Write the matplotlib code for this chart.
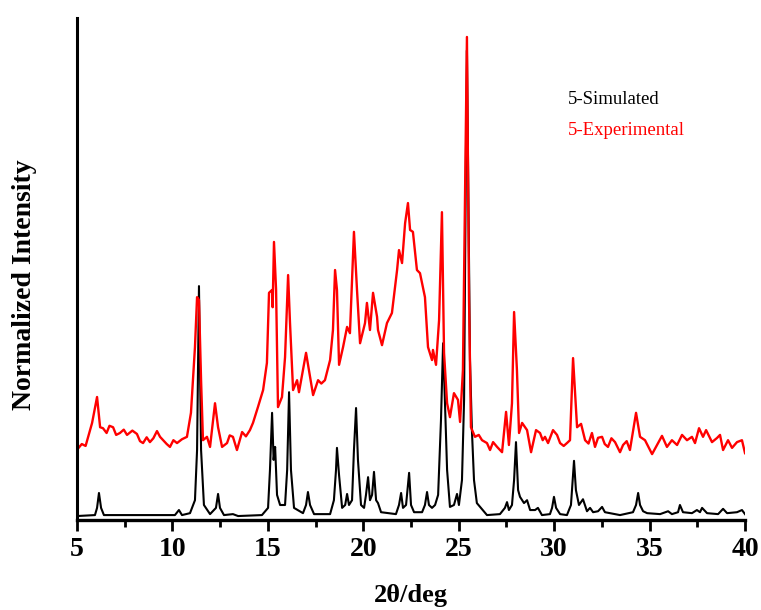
import matplotlib
matplotlib.use("Agg")
import matplotlib.pyplot as plt
import numpy as np
from matplotlib.ticker import MultipleLocator

plt.rcParams['font.family'] = ['Liberation Serif', 'DejaVu Serif']

# simulated pattern (2theta, intensity)
sim_x = [5.00, 5.94, 6.05, 6.15, 6.26, 6.41, 10.13, 10.34, 10.50, 10.92, 11.18, 11.29, 11.39, 11.50,
         11.65, 11.97, 12.28, 12.39, 12.49, 12.70, 13.17, 13.44, 14.69, 15.01, 15.11, 15.22, 15.30,
         15.38, 15.48, 15.64, 15.90, 16.01, 16.11, 16.21, 16.37, 16.84, 17.00, 17.10, 17.21, 17.42,
         18.26, 18.46, 18.57, 18.62, 18.73, 18.89, 19.05, 19.15, 19.25, 19.41, 19.51, 19.62, 19.72,
         19.88, 20.04, 20.14, 20.25, 20.35, 20.46, 20.56, 20.67, 20.77, 20.93, 21.71, 21.87, 21.98,
         22.08, 22.24, 22.40, 22.50, 22.66, 23.08, 23.23, 23.34, 23.44, 23.60, 23.76, 23.92, 24.07,
         24.18, 24.28, 24.39, 24.54, 24.75, 24.91, 25.01, 25.17, 25.28, 25.38, 25.43, 25.48, 25.59,
         25.69, 25.80, 25.95, 26.48, 27.16, 27.42, 27.53, 27.63, 27.79, 27.90, 28.00, 28.11, 28.21,
         28.32, 28.42, 28.58, 28.74, 29.00, 29.15, 29.36, 29.78, 29.89, 29.99, 30.10, 30.31, 30.67,
         30.88, 31.04, 31.14, 31.30, 31.51, 31.72, 31.88, 32.04, 32.30, 32.51, 32.66, 33.45, 34.13,
         34.29, 34.40, 34.50, 34.66, 34.87, 35.55, 35.97, 36.17, 36.49, 36.59, 36.75, 37.22, 37.48,
         37.64, 37.75, 38.01, 38.59, 38.85, 39.06, 39.58, 39.84, 40.00]
sim_y = [0.0, 0.2, 1.7, 4.8, 1.7, 0.2, 0.2, 1.25, 0.2, 0.6, 3.3, 13.75, 47.9, 13.75,
         2.3, 0.4, 1.7, 4.6, 1.7, 0.2, 0.4, 0.0, 0.2, 1.7, 9.6, 21.5, 11.7,
         14.4, 4.4, 2.3, 2.3, 9.6, 25.8, 9.6, 1.7, 0.6, 2.3, 5.0, 2.3, 0.4,
         0.4, 3.3, 9.6, 14.2, 8.5, 1.7, 2.3, 4.6, 2.3, 3.3, 13.75, 22.5, 11.7,
         2.3, 1.7, 4.4, 8.1, 3.3, 4.4, 9.2, 3.3, 2.7, 0.8, 0.4, 2.3, 4.8,
         1.7, 2.3, 9.0, 2.3, 0.8, 0.8, 2.3, 5.0, 2.3, 1.7, 2.3, 4.4, 20.0,
         36.0, 23.5, 9.6, 1.9, 2.3, 4.6, 2.3, 7.5, 24.2, 76.25, 97.0, 76.25, 32.5,
         17.9, 7.5, 2.7, 0.2, 0.4, 1.7, 2.9, 1.25, 2.3, 7.5, 15.4, 5.4, 4.0,
         3.3, 2.7, 3.3, 1.25, 1.25, 1.7, 0.2, 0.4, 1.7, 4.0, 1.7, 0.4, 0.2,
         2.3, 11.5, 5.4, 2.3, 3.5, 1.0, 1.7, 0.8, 1.0, 1.9, 0.8, 0.2, 0.8,
         2.3, 4.8, 2.3, 1.0, 0.6, 0.4, 1.0, 0.4, 0.8, 2.3, 0.8, 0.6, 1.25,
         0.8, 1.7, 0.6, 0.4, 1.5, 0.6, 0.8, 1.25, 0.4]

# experimental pattern (offset as in the figure)
exp_x = [5.00, 5.25, 5.45, 5.79, 6.05, 6.21, 6.36, 6.55, 6.70, 6.89, 7.05, 7.25, 7.45, 7.62, 7.90,
         8.14, 8.30, 8.46, 8.65, 8.82, 9.00, 9.19, 9.35, 9.51, 9.70, 9.87,
         10.05, 10.24, 10.50, 10.76, 10.97, 11.18, 11.29, 11.39, 11.50, 11.60, 11.81, 11.97, 12.23,
         12.39, 12.60, 12.86, 13.00, 13.17, 13.38, 13.65, 13.85, 14.06, 14.22, 14.48, 14.75, 14.95,
         15.06, 15.22, 15.25, 15.32,
         15.43, 15.53, 15.74, 15.90, 16.06, 16.16, 16.32, 16.53, 16.63, 17.00, 17.21, 17.37, 17.63,
         17.80, 17.99, 18.26, 18.41, 18.52, 18.62, 18.73, 18.94, 19.15, 19.30, 19.51, 19.67, 19.83,
         20.09, 20.19, 20.35, 20.51, 20.72, 20.77, 20.98, 21.24, 21.50, 21.77, 21.87, 22.03, 22.19,
         22.34, 22.45, 22.60, 22.81, 22.97, 23.23, 23.39, 23.60, 23.65, 23.81, 23.97, 24.12, 24.23,
         24.39, 24.54, 24.75, 24.96, 25.07, 25.22, 25.43, 25.54, 25.64, 25.85, 26.05, 26.22, 26.48,
         26.64, 26.80, 27.01, 27.27, 27.48, 27.63, 27.79, 27.90, 28.05, 28.16, 28.32, 28.58, 28.79,
         29.05, 29.26, 29.40, 29.52, 29.68, 29.94, 30.15, 30.31, 30.50, 30.67, 30.83, 30.99, 31.20,
         31.41, 31.62, 31.80, 31.98, 32.14, 32.30, 32.51, 32.65, 32.82, 33.00, 33.19, 33.30, 33.45,
         33.61, 33.80, 33.97, 34.29, 34.50, 34.76, 35.13, 35.39, 35.65, 35.91, 36.17, 36.44, 36.70,
         36.96, 37.22, 37.38, 37.59, 37.80, 37.96, 38.27, 38.53, 38.69, 38.85, 39.11, 39.32, 39.58,
         39.84, 40.00]
exp_y = [13.8, 15.0, 14.6, 19.4, 24.8, 18.5, 18.3, 17.3, 18.8, 18.5, 16.9, 17.3, 18.0, 16.9, 17.8,
         17.1, 15.6, 15.2, 16.4, 15.4, 16.2, 17.7, 16.5, 15.8, 15.0, 14.4,
         15.8, 15.2, 16.0, 16.5, 21.5, 35.2, 45.6, 45.0, 28.3, 15.8, 16.5, 14.4, 23.5,
         18.5, 14.4, 15.2, 16.8, 16.5, 13.75, 17.5, 16.6, 17.9, 19.4, 22.7, 26.25, 31.9,
         46.5, 47.1, 43.5, 57.1,
         47.1, 22.7, 24.8, 33.1, 50.2, 40.2, 26.25, 28.3, 25.8, 34.0, 29.0, 25.2, 28.3,
         27.6, 28.3, 32.5, 38.75, 51.25, 47.1, 31.5, 35.2, 39.4, 38.1, 59.2, 47.1, 36.0,
         40.2, 44.4, 38.75, 46.5, 41.5, 38.75, 35.6, 40.2, 42.3, 51.25, 55.4, 52.7, 61.0,
         65.2, 59.6, 59.2, 51.25, 50.6, 45.6, 35.2, 32.5, 34.6, 31.5, 40.8, 63.3, 34.0,
         23.5, 20.6, 25.6, 24.2, 19.6, 30.4, 99.8, 45.0, 18.5, 16.5, 16.9, 15.8, 15.2,
         13.75, 15.4, 14.4, 13.3, 21.7, 14.8, 23.5, 42.5, 30.4, 17.3, 19.4, 17.9, 13.3,
         17.9, 17.3, 15.8, 16.5, 15.2, 17.9, 16.9, 15.2, 14.6, 15.2, 15.8, 32.9, 18.5,
         19.2, 15.8, 15.1, 17.3, 14.4, 16.3, 16.5, 15.0, 14.4, 16.2, 15.4, 14.5, 13.3,
         14.8, 15.6, 13.75, 21.5, 16.5, 15.8, 12.9, 14.8, 16.7, 14.4, 15.8, 14.8, 16.9,
         15.8, 16.5, 15.2, 18.3, 16.5, 17.9, 15.4, 16.25, 16.9, 13.75, 15.8, 14.2, 15.4,
         15.8, 13.1]

fig = plt.figure(figsize=(7.61, 6.10), dpi=100)
ax = fig.add_axes([0.1012, 0.1475, 0.8778, 0.823])

ax.plot(sim_x, sim_y, color='black', lw=1.5)
ax.plot(exp_x, exp_y, color='red', lw=1.7)

ax.set_xlim(5, 40)
ax.set_ylim(-0.83, 103.75)

ax.spines['top'].set_visible(False)
ax.spines['right'].set_visible(False)
ax.spines['left'].set_linewidth(2.2)
ax.spines['bottom'].set_linewidth(2.4)

ax.xaxis.set_major_locator(MultipleLocator(5))
ax.xaxis.set_minor_locator(MultipleLocator(2.5))
ax.tick_params(axis='x', which='major', direction='out', length=8, width=2, pad=4)
ax.tick_params(axis='x', which='minor', direction='out', length=5, width=2)
ax.set_yticks([])
for lab in ax.get_xticklabels():
    lab.set_fontsize(20)
    lab.set_fontweight('bold')

ax.set_xlabel('2θ/deg', fontsize=19, fontweight='bold', labelpad=16)
ax.set_ylabel('Normalized Intensity', fontsize=20, fontweight='bold')
ax.yaxis.set_label_coords(-0.06, 0.468)

ax.text(30.73, 86.7, '5-Simulated', color='black', fontsize=13.5, va='center', ha='left')
ax.text(30.73, 80.4, '5-Experimental', color='red', fontsize=13.5, va='center', ha='left')

fig.savefig('out.png', dpi=100)
